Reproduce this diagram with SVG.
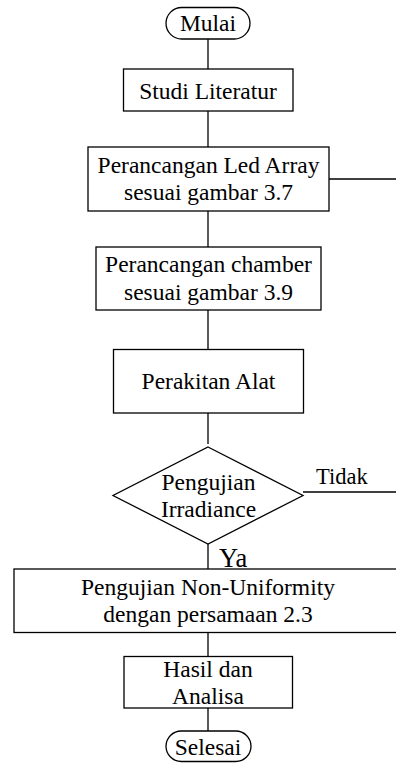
<svg xmlns="http://www.w3.org/2000/svg" width="396" height="763" viewBox="0 0 396 763">
<style>
.box{fill:#fff;stroke:#000;stroke-width:1.3}
.ln{fill:none;stroke:#000;stroke-width:1.3}
.t{font-family:'Liberation Serif','Times New Roman',serif;font-size:23.5px;fill:#000}
.c{text-anchor:middle}
</style>
<rect width="396" height="763" fill="#fff"/>
<g id="connectors">
<line class="ln" x1="208" y1="39" x2="208" y2="69"/>
<line class="ln" x1="208" y1="111" x2="208" y2="147"/>
<line class="ln" x1="208" y1="211" x2="208" y2="247"/>
<line class="ln" x1="208" y1="310" x2="208" y2="349"/>
<line class="ln" x1="208" y1="413" x2="208" y2="444"/>
<line class="ln" x1="208" y1="544" x2="208" y2="569"/>
<line class="ln" x1="208" y1="633" x2="208" y2="656"/>
<line class="ln" x1="208" y1="708" x2="208" y2="731"/>
<line class="ln" x1="329" y1="179" x2="396" y2="179"/>
<line class="ln" x1="303" y1="492" x2="396" y2="492"/>
<text class="t" x="316" y="483.5" style="font-size:22.5px">Tidak</text>
<text class="t" x="219" y="566.5" style="font-size:26.5px">Ya</text>
</g>
<g id="mulai">
<rect class="box" x="166" y="7.5" width="84" height="31.5" rx="15.75"/>
<text class="t c" x="208" y="31">Mulai</text>
</g>
<g id="studi">
<rect class="box" x="123.5" y="69" width="169.5" height="42"/>
<text class="t c" x="208" y="98.5">Studi Literatur</text>
</g>
<g id="led">
<rect class="box" x="88" y="147" width="241" height="64"/>
<text class="t c" x="208.5" y="172.5">Perancangan Led Array</text>
<text class="t c" x="208.5" y="200">sesuai gambar 3.7</text>
</g>
<g id="chamber">
<rect class="box" x="96" y="247" width="225" height="63"/>
<text class="t c" x="208.5" y="271.5">Perancangan chamber</text>
<text class="t c" x="208.5" y="299.5">sesuai gambar 3.9</text>
</g>
<g id="perakitan">
<rect class="box" x="113.5" y="349.5" width="190" height="63.5"/>
<text class="t c" x="208.5" y="389">Perakitan Alat</text>
</g>
<g id="pengujian">
<polygon class="box" points="208,447 303,495.5 208,544 113,495.5"/>
<text class="t c" x="208.5" y="489.5">Pengujian</text>
<text class="t c" x="208.5" y="516.5">Irradiance</text>
</g>
<g id="nonuniform">
<rect class="box" x="14" y="569" width="400" height="63.5"/>
<text class="t c" x="208" y="595">Pengujian Non-Uniformity</text>
<text class="t c" x="208" y="621.5">dengan persamaan 2.3</text>
</g>
<g id="hasil">
<rect class="box" x="124" y="656.5" width="168.5" height="51.5"/>
<text class="t c" x="208" y="676.5">Hasil dan</text>
<text class="t c" x="208" y="704">Analisa</text>
</g>
<g id="selesai">
<rect class="box" x="166" y="731" width="85" height="30.5" rx="15.25"/>
<text class="t c" x="208" y="755">Selesai</text>
</g>
</svg>
